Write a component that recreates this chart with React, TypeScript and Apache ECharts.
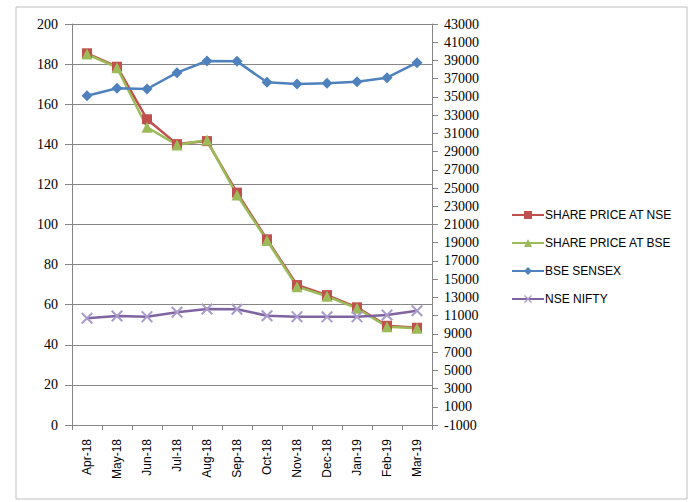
import React, { useEffect, useRef } from "react";
import * as echarts from "echarts";

const categories = ["Apr-18", "May-18", "Jun-18", "Jul-18", "Aug-18", "Sep-18", "Oct-18", "Nov-18", "Dec-18", "Jan-19", "Feb-19", "Mar-19"];
const sharePriceNSE = [185.4, 178.7, 152.5, 140.1, 141.6, 115.9, 92.6, 69.8, 64.8, 58.7, 49.5, 48.5];
const sharePriceBSE = [185.0, 178.2, 148.5, 139.7, 142.1, 114.7, 92.0, 69.0, 64.2, 58.2, 49.0, 48.2];
const bseSensex = [35134, 35946, 35870, 37659, 38942, 38900, 36603, 36418, 36490, 36672, 37110, 38756];
const nseNifty = [10708, 10961, 10888, 11366, 11729, 11700, 10994, 10888, 10870, 10870, 11070, 11542];

const crossPath = "path://M0,1.2 L1.2,0 L10,8.8 L8.8,10 Z M8.8,0 L10,1.2 L1.2,10 L0,8.8 Z";

export default function App() {
  const ref = useRef<HTMLDivElement>(null);
  useEffect(() => {
    if (!ref.current) return;
    const chart = echarts.init(ref.current, undefined, { renderer: "svg" });
    const gray = "#868686";
    const serif = "Liberation Serif";
    chart.setOption({
      animation: false,
      backgroundColor: "#ffffff",
      graphic: [
        {
          type: "rect",
          shape: { x: 16, y: 7, width: 671, height: 492 },
          style: { fill: "none", stroke: "#bfbfbf", lineWidth: 1 },
          silent: true,
          z: -10,
        },
      ],
      grid: { left: 72, right: 261, top: 24, bottom: 77 },
      legend: {
        orient: "vertical",
        left: 506,
        top: 204,
        itemWidth: 32,
        itemHeight: 10,
        itemGap: 16,
        textStyle: { fontFamily: "Liberation Sans", fontSize: 12, color: "#000", padding: [0, 0, 0, -4] },
        data: ["SHARE PRICE AT NSE", "SHARE PRICE AT BSE", "BSE SENSEX", "NSE NIFTY"],
      },
      xAxis: {
        type: "category",
        data: categories,
        boundaryGap: true,
        axisLine: { lineStyle: { color: gray } },
        axisTick: { show: true, length: 5, lineStyle: { color: gray } },
        axisLabel: { rotate: 90, fontFamily: "Liberation Sans", fontSize: 12, color: "#000", margin: 14, interval: 0 },
      },
      yAxis: [
        {
          type: "value",
          min: 0,
          max: 200,
          interval: 20,
          position: "left",
          axisLine: { show: true, lineStyle: { color: gray } },
          axisTick: { show: true, length: 7, lineStyle: { color: gray } },
          splitLine: { show: true, lineStyle: { color: gray, width: 1 } },
          axisLabel: { fontFamily: serif, fontSize: 14, color: "#000", margin: 14 },
        },
        {
          type: "value",
          min: -1000,
          max: 43000,
          interval: 2000,
          position: "right",
          axisLine: { show: true, lineStyle: { color: gray } },
          axisTick: { show: true, length: 6, lineStyle: { color: gray } },
          splitLine: { show: false },
          axisLabel: { fontFamily: serif, fontSize: 14, color: "#000", margin: 12, formatter: (v: number) => String(v) },
        },
      ],
      series: [
        {
          name: "SHARE PRICE AT NSE",
          type: "line",
          yAxisIndex: 0,
          data: sharePriceNSE,
          symbol: "rect",
          symbolSize: 10,
          lineStyle: { color: "#C0504D", width: 2.5 },
          itemStyle: { color: "#C0504D" },
        },
        {
          name: "SHARE PRICE AT BSE",
          type: "line",
          yAxisIndex: 0,
          data: sharePriceBSE,
          symbol: "triangle",
          symbolSize: 11,
          lineStyle: { color: "#9BBB59", width: 2.5 },
          itemStyle: { color: "#9BBB59" },
        },
        {
          name: "BSE SENSEX",
          type: "line",
          yAxisIndex: 1,
          data: bseSensex,
          symbol: "diamond",
          symbolSize: 11,
          lineStyle: { color: "#4F81BD", width: 2.5 },
          itemStyle: { color: "#4F81BD" },
        },
        {
          name: "NSE NIFTY",
          type: "line",
          yAxisIndex: 1,
          data: nseNifty,
          symbol: crossPath,
          symbolSize: 12,
          lineStyle: { color: "#8064A2", width: 2.5 },
          itemStyle: { color: "#A99BCB" },
        },
      ],
    });
    return () => chart.dispose();
  }, []);
  return <div ref={ref} style={{ width: 693, height: 502, position: "absolute", left: 0, top: 0 }} />;
}
